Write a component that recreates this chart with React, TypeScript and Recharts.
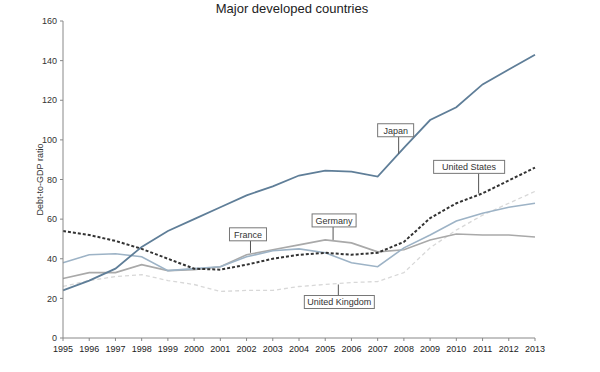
import { LineChart, Line, XAxis, YAxis, ReferenceDot } from 'recharts'

const years = [1995, 1996, 1997, 1998, 1999, 2000, 2001, 2002, 2003, 2004, 2005, 2006, 2007, 2008, 2009, 2010, 2011, 2012, 2013]
const japan = [24, 29, 35, 46, 54, 60, 66, 72, 76.5, 82, 84.5, 84, 81.5, 96, 110, 116.5, 128, 135.5, 143]
const unitedStates = [54, 52, 49, 45, 40, 35, 34.5, 37, 40, 42, 43, 42, 43, 48.5, 60.5, 68, 73, 79.5, 86]
const france = [38, 42, 42.5, 41, 34, 35, 36, 41, 44, 45, 43, 38, 36, 45.5, 52, 59, 63, 66, 68]
const germany = [30, 33, 33, 37, 34, 34.5, 36, 42, 44.5, 47, 49.5, 48, 43.5, 44.5, 49.5, 52.5, 52, 52, 51]
const unitedKingdom = [26, 29, 31, 32, 29, 27, 23.5, 24, 24, 26, 27, 28, 28.5, 33, 45.5, 54.5, 62, 68, 74]
const yTicks = [0, 20, 40, 60, 80, 100, 120, 140, 160]

const data = years.map((year, i) => ({
  year,
  japan: japan[i],
  unitedStates: unitedStates[i],
  france: france[i],
  germany: germany[i],
  unitedKingdom: unitedKingdom[i],
}))

// callout anchors (year, value on the line) and how the boxes sit relative to them
const callouts = [
  { name: 'Japan', year: 2007.8, value: 93, dx: -3, dy: -17, w: 36 },
  { name: 'United States', year: 2010.85, value: 73, dx: -9.5, dy: -20, w: 71 },
  { name: 'France', year: 2002.15, value: 43, dx: -2.5, dy: -12, w: 37 },
  { name: 'Germany', year: 2005.3, value: 49.5, dx: 1, dy: -13, w: 44 },
  { name: 'United Kingdom', year: 2005.5, value: 27, dx: 1, dy: 11, w: 70 },
]

const font = 'Arial, "Liberation Sans", sans-serif'

function Callout(props: any) {
  const { cx, cy, c } = props
  const boxH = 13
  const boxX = cx + c.dx - c.w / 2
  const boxY = c.dy < 0 ? cy + c.dy - boxH : cy + c.dy
  return (
    <g>
      <line x1={cx} y1={cy} x2={cx} y2={cy + c.dy} stroke="#555" strokeWidth={1} />
      <rect x={boxX} y={boxY} width={c.w} height={boxH} fill="#fff" stroke="#777" strokeWidth={1} />
      <text x={boxX + c.w / 2} y={boxY + 9.8} textAnchor="middle" fontSize={9} fill="#333" fontFamily={font}>
        {c.name}
      </text>
    </g>
  )
}

export default function App() {
  return (
    <div style={{ position: 'absolute', left: 0, top: 0, width: 600, height: 372, background: '#fff' }}>
      <div
        style={{
          position: 'absolute',
          left: 0,
          top: 1,
          width: 584,
          textAlign: 'center',
          fontFamily: font,
          fontSize: 13,
          color: '#222',
        }}
      >
        Major developed countries
      </div>
      <LineChart width={600} height={372} data={data} margin={{ top: 21, right: 65, bottom: 14, left: 0 }}>
        <XAxis
          dataKey="year"
          type="number"
          domain={[1995, 2013]}
          ticks={years}
          interval={0}
          height={20}
          stroke="#888"
          tickSize={3}
          tick={{ fontSize: 9, fill: '#222', fontFamily: font }}
          tickMargin={5}
        />
        <YAxis
          width={63}
          domain={[0, 160]}
          ticks={yTicks}
          interval={0}
          stroke="#888"
          tickSize={3}
          tick={{ fontSize: 9, fill: '#333', fontFamily: font }}
          tickMargin={3}
          label={{ value: 'Debt-to-GDP ratio', angle: -90, position: 'insideLeft', offset: 40, fontSize: 9, fill: '#333', fontFamily: font, style: { textAnchor: 'middle' } }}
        />
        <Line dataKey="unitedKingdom" stroke="#d8d8d8" strokeWidth={1.3} strokeDasharray="4 3" dot={false} isAnimationActive={false} />
        <Line dataKey="germany" stroke="#a9a9a9" strokeWidth={1.6} dot={false} isAnimationActive={false} />
        <Line dataKey="france" stroke="#9db3c6" strokeWidth={1.6} dot={false} isAnimationActive={false} />
        <Line dataKey="unitedStates" stroke="#333333" strokeWidth={2} strokeDasharray="3 2" dot={false} isAnimationActive={false} />
        <Line dataKey="japan" stroke="#5f7e98" strokeWidth={1.8} dot={false} isAnimationActive={false} />
        {callouts.map((c) => (
          <ReferenceDot
            key={c.name}
            x={c.year}
            y={c.value}
            r={0}
            ifOverflow="visible"
            shape={(p: any) => <Callout {...p} c={c} />}
          />
        ))}
      </LineChart>
    </div>
  )
}
